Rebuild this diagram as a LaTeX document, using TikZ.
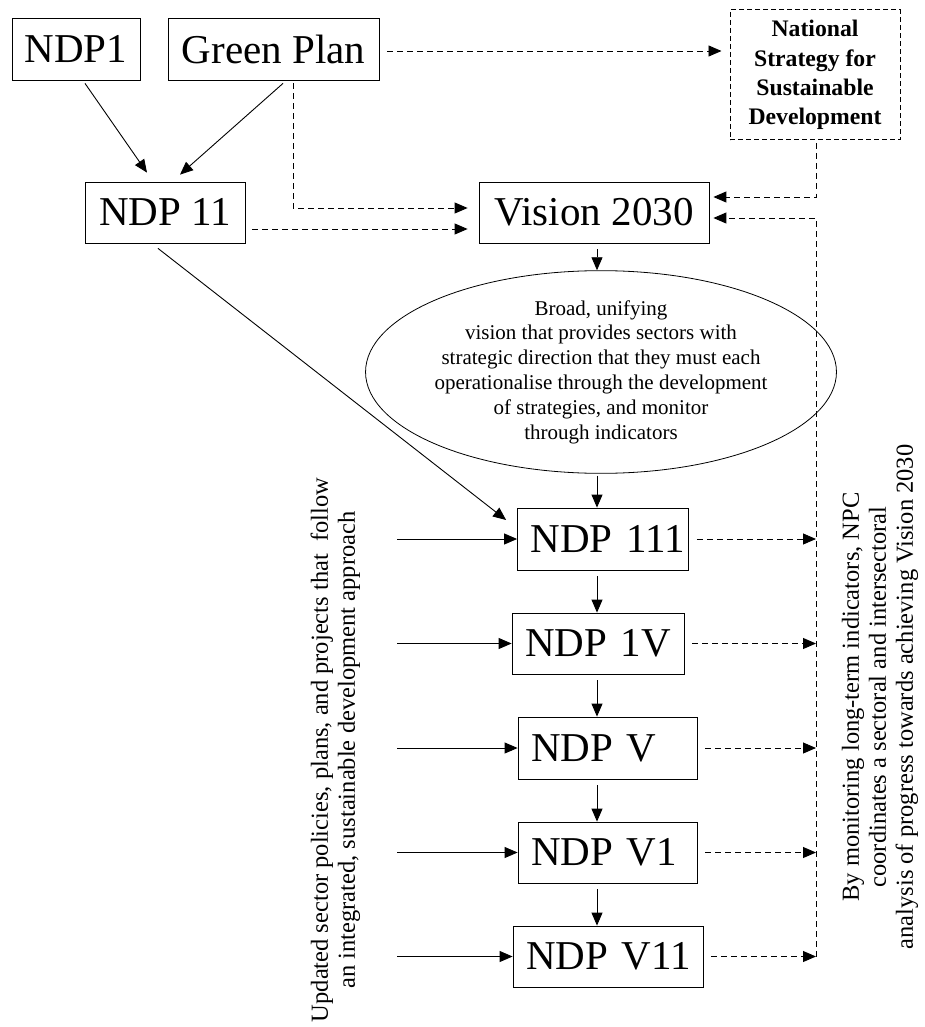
\documentclass[tikz,border=0pt]{standalone}
\usepackage{fontspec}
\setmainfont{Liberation Serif}
\usetikzlibrary{arrows.meta,shapes.geometric}

\begin{document}
\begin{tikzpicture}[x=1pt,y=-1pt,
    plainbox/.style={draw,line width=0.8pt,inner sep=0pt,font=\fontsize{41}{49}\selectfont},
    ndpbox/.style={plainbox,text width=#1,inner xsep=13pt,align=left},
    arr/.style={line width=0.9pt,-{Triangle[length=13pt,width=11pt]}},
    dasharr/.style={line width=0.9pt,dash pattern=on 6pt off 4pt,-{Triangle[length=13pt,width=11pt]}},
    sidetext/.style={rotate=90,align=center,font=\fontsize{24.5}{27}\selectfont}]
    \useasboundingbox (0,0) rectangle (925,1027);

    % plans at the top
    \node[plainbox,minimum width=128pt,minimum height=62pt] (ndpone) at (76,49) {NDP1};
    \node[plainbox,minimum width=211pt,minimum height=62pt] (green) at (273.5,49) {Green Plan};
    \node[draw,line width=1pt,dash pattern=on 5pt off 3pt,minimum width=170pt,minimum height=130pt,inner sep=0pt,align=center,
          font=\bfseries\fontsize{23.7}{29.3}\selectfont] (nssd) at (815,75) {National\\Strategy for\\Sustainable\\Development};

    \node[plainbox,minimum width=160pt,minimum height=61pt] (ndptwo) at (165,212.5) {NDP 11};
    \node[plainbox,minimum width=230pt,minimum height=61pt] (vision) at (594,212.5) {Vision 2030};

    \node[draw,ellipse,line width=0.8pt,minimum width=364pt,minimum height=183pt,inner sep=0pt,align=center,
          font=\fontsize{21}{24.8}\selectfont] (vis) at (601,372)
      {Broad, unifying\\vision that provides sectors with\\strategic direction that they must each\\operationalise through the development\\of strategies, and monitor\\through indicators};

    % the later plans
    \node[ndpbox=145pt,minimum height=62pt] (ndpthree) at (603,539) {NDP~111};
    \node[ndpbox=146pt,minimum height=61pt] (ndpfour) at (598,643.5) {NDP~1V};
    \node[ndpbox=153pt,minimum height=62pt] (ndpfive) at (607.5,748) {NDP~V};
    \node[ndpbox=153pt,minimum height=61pt] (ndpsix) at (607.5,852.5) {NDP~V1};
    \node[ndpbox=164pt,minimum height=61pt] (ndpseven) at (608,956.5) {NDP~V11};

    \node[sidetext] (sector) at (335.5,750)
      {Updated sector policies, plans, and projects that\ \ follow\\an integrated, sustainable development approach};
    \node[sidetext] (npc) at (880,697)
      {By monitoring long-term indicators, NPC\\coordinates a sectoral and intersectoral\\analysis of progress towards achieving Vision 2030};

    \coordinate (spine) at (597,0);
    \coordinate (feed) at (397,0);
    \coordinate (back) at (816,0);

    % solid links
    \draw[arr] ([xshift=9pt,yshift=-3pt]ndpone.south) -- ([xshift=-18pt,yshift=9pt]ndptwo.north);
    \draw[arr] ([xshift=9.5pt,yshift=-3pt]green.south) -- ([xshift=15pt,yshift=7pt]ndptwo.north);
    \draw[arr] ([xshift=-7pt,yshift=-5pt]ndptwo.south) -- ([xshift=-11pt,yshift=19pt]ndpthree.west);
    \draw[arr] ([yshift=-6pt]vision.south -| spine) -- (vis.north -| spine);
    \draw[arr] ([yshift=-2pt]vis.south -| spine) -- (ndpthree.north -| spine);
    \draw[arr] ([yshift=-6pt]ndpthree.south -| spine) -- (ndpfour.north -| spine);
    \draw[arr] ([yshift=-6pt]ndpfour.south -| spine) -- (ndpfive.north -| spine);
    \draw[arr] ([yshift=-6pt]ndpfive.south -| spine) -- (ndpsix.north -| spine);
    \draw[arr] ([yshift=-6pt]ndpsix.south -| spine) -- (ndpseven.north -| spine);
    \foreach \n in {ndpthree,ndpfour,ndpfive,ndpsix,ndpseven}
      \draw[arr] (\n.west -| feed) -- (\n.west);

    % dashed links
    \draw[dasharr] ([xshift=8pt,yshift=-2pt]green.east) -- ([xshift=-8pt,yshift=-2pt]green.east -| nssd.west);
    \draw[dasharr] ([xshift=19.5pt,yshift=-3pt]green.south) |- ([xshift=-11pt,yshift=4.5pt]vision.west);
    \draw[dasharr] ([xshift=7pt,yshift=-16.5pt]ndptwo.east) -- ([xshift=-11pt,yshift=-16.5pt]vision.west);
    \draw[dasharr] ([xshift=1pt,yshift=-3pt]nssd.south) |- ([xshift=4pt,yshift=15.5pt]vision.east);
    \draw[dasharr] (ndpseven.east -| back) |- ([xshift=4pt,yshift=-5.5pt]vision.east);
    \foreach \n in {ndpthree,ndpfour,ndpfive,ndpsix,ndpseven}
      \draw[dasharr] ([xshift=8pt]\n.east) -- (\n.east -| back);
\end{tikzpicture}
\end{document}
